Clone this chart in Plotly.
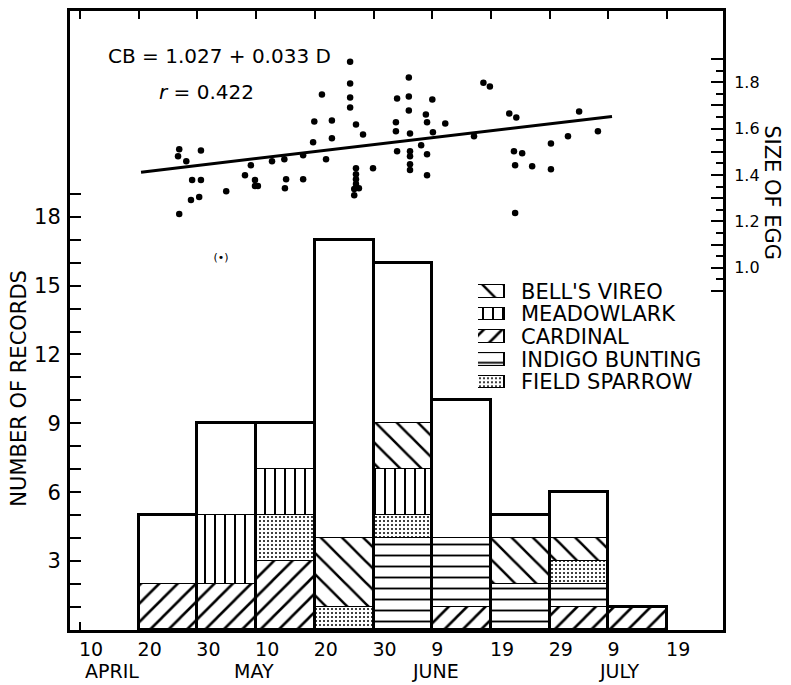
import plotly.graph_objects as go

# ---------------- data ----------------
# day numbering: April d -> d, May d -> 30+d, June d -> 61+d, July d -> 91+d
bin_start = [20, 30, 40, 50, 60, 70, 80, 90, 100]
bin_width = 10
cardinal = [2, 2, 3, 0, 0, 1, 0, 1, 1]
indigo_bunting = [0, 0, 0, 0, 4, 3, 2, 1, 0]
field_sparrow = [0, 0, 2, 1, 1, 0, 0, 1, 0]
meadowlark = [0, 3, 2, 0, 2, 0, 0, 0, 0]
bells_vireo = [0, 0, 0, 3, 2, 0, 2, 1, 0]
total_records = [5, 9, 9, 17, 16, 10, 5, 6, 1]

legend_names = ["BELL'S VIREO", "MEADOWLARK", "CARDINAL", "INDIGO BUNTING", "FIELD SPARROW"]

x_tick_days = [10, 20, 30, 40, 50, 60, 70, 80, 90, 100, 110]
x_tick_labels = ["10", "20", "30", "10", "20", "30", "9\u2007", "19", "29", "9\u2007", "19"]
month_names = ["APRIL", "MAY", "JUNE", "JULY"]
month_days = [15.5, 39.6, 70.5, 101.8]

y_tick_vals = list(range(1, 20))
y_tick_text = ["", "", "3", "", "", "6", "", "", "9", "", "", "12", "", "", "15", "", "", "18", ""]

egg_tick_vals = [0.9, 1.0, 1.1, 1.2, 1.3, 1.4, 1.5, 1.6, 1.7, 1.8, 1.9]
egg_tick_text = ["", "1.0", "", "1.2", "", "1.4", "", "1.6", "", "1.8", ""]
egg_minor_vals = [0.95, 1.05, 1.15, 1.25, 1.35, 1.45, 1.55, 1.65, 1.75, 1.85]

egg_day = [26.9, 26.7, 28.1, 30.6, 29.1, 30.6, 28.9, 30.3, 26.9, 34.9,
           38.1, 39.1, 39.8, 39.8, 40.3, 42.7, 44.8, 45.1, 44.9, 48.0,
           48.0, 49.7, 49.9, 51.2, 51.9, 52.9, 52.9, 56.0, 56.0, 56.0,
           56.0, 57.0, 58.2, 59.9, 57.0, 57.0, 57.0, 57.0, 56.7, 57.5,
           56.7, 66.0, 64.0, 66.0, 70.0, 66.0, 68.9, 63.8, 69.1, 72.2,
           63.8, 66.2, 70.1, 68.1, 64.0, 66.2, 66.2, 69.1, 66.2, 66.2,
           69.1, 78.7, 79.8, 83.1, 84.3, 95.0, 77.1, 90.2, 93.1, 98.2,
           83.9, 85.3, 84.1, 87.0, 90.2, 84.1]
egg_size = [1.511, 1.481, 1.459, 1.506, 1.378, 1.378, 1.292, 1.305, 1.232, 1.330,
            1.399, 1.442, 1.378, 1.352, 1.352, 1.459, 1.468, 1.382, 1.343, 1.485,
            1.382, 1.541, 1.631, 1.747, 1.468, 1.635, 1.558, 1.888, 1.794, 1.734,
            1.691, 1.618, 1.575, 1.429, 1.429, 1.403, 1.382, 1.361, 1.339, 1.343,
            1.313, 1.820, 1.730, 1.738, 1.725, 1.678, 1.661, 1.627, 1.627, 1.622,
            1.588, 1.579, 1.584, 1.528, 1.502, 1.502, 1.481, 1.489, 1.446, 1.421,
            1.399, 1.798, 1.781, 1.665, 1.648, 1.674, 1.567, 1.536, 1.567, 1.588,
            1.502, 1.494, 1.442, 1.438, 1.425, 1.236]
fit_day = [20.4, 100.6]
fit_size = [1.412, 1.652]
outlier_day = [34.0]
outlier_size = [1.039]

# ---------------- figure ----------------
FONT = "DejaVu Sans"
bin_center = [s + bin_width / 2 for s in bin_start]
other = [t - (a + b + c + d + e) for t, a, b, c, d, e in
         zip(total_records, cardinal, indigo_bunting, field_sparrow, meadowlark, bells_vireo)]

patterns = {
    "CARDINAL": dict(shape="/", size=13, solidity=0.2),
    "INDIGO BUNTING": dict(shape="-", size=11, solidity=0.17),
    "FIELD SPARROW": dict(shape=".", size=4, solidity=0.2),
    "MEADOWLARK": dict(shape="|", size=10, solidity=0.2),
    "BELL'S VIREO": dict(shape="\\", size=15, solidity=0.17),
}
for p in patterns.values():
    p.update(fgcolor="black", bgcolor="white", fillmode="overlay", fgopacity=1)

fig = go.Figure()

stack = [("CARDINAL", cardinal), ("INDIGO BUNTING", indigo_bunting),
         ("FIELD SPARROW", field_sparrow), ("MEADOWLARK", meadowlark),
         ("BELL'S VIREO", bells_vireo)]
for name, vals in stack:
    fig.add_trace(go.Bar(
        x=bin_center, y=vals, width=[bin_width] * len(vals), name=name, showlegend=False,
        marker=dict(color="white", pattern=patterns[name], line=dict(color="black", width=1.5)),
        hoverinfo="skip"))

fig.add_trace(go.Bar(
    x=bin_center, y=other, width=[bin_width] * len(other), showlegend=False,
    marker=dict(color="white", line=dict(color="black", width=1.5)), hoverinfo="skip"))

# bold outline of each bar (separate overlay axis so it does not stack)
fig.add_trace(go.Bar(
    x=bin_center, y=total_records, width=[bin_width] * len(total_records), showlegend=False,
    marker=dict(color="rgba(0,0,0,0)", line=dict(color="black", width=3.5)),
    yaxis="y3", hoverinfo="skip"))

# legend swatches (own small axes)
for i, name in enumerate(legend_names):
    fig.add_trace(go.Bar(
        x=[1], y=[i], orientation="h", width=0.55, xaxis="x4", yaxis="y4", showlegend=False,
        marker=dict(color="white", pattern=patterns[name], line=dict(color="black", width=1.5)),
        hoverinfo="skip"))

fig.add_trace(go.Scatter(
    x=egg_day, y=egg_size, mode="markers", yaxis="y2", showlegend=False,
    marker=dict(color="black", size=6.5)))
fig.add_trace(go.Scatter(
    x=fit_day, y=fit_size, mode="lines", yaxis="y2", showlegend=False,
    line=dict(color="black", width=3)))
fig.add_trace(go.Scatter(
    x=outlier_day, y=outlier_size, mode="text", text=["(\u2022)"], yaxis="y2",
    showlegend=False, textfont=dict(size=11, family=FONT, color="black")))

annotations = [
    dict(text="CB = 1.027 + 0.033 D", x=0.0551, y=0.9277, xanchor="left", yanchor="middle",
         font=dict(size=20)),
    dict(text="<i>r</i> = 0.422", x=0.1332, y=0.8698, xanchor="left", yanchor="middle",
         font=dict(size=20)),
    dict(text="NUMBER OF RECORDS", x=-0.0781, y=0.3899, textangle=-90,
         xanchor="center", yanchor="middle", font=dict(size=21)),
    dict(text="SIZE OF EGG", x=1.0750, y=0.7058, textangle=90,
         xanchor="center", yanchor="middle", font=dict(size=21)),
]
for a in annotations:
    a.update(xref="paper", yref="paper", showarrow=False)
for name, d in zip(month_names, month_days):
    annotations.append(dict(text=name, x=d, y=-0.0659, xref="x", yref="paper",
                            showarrow=False, xanchor="center", yanchor="middle",
                            font=dict(size=19)))
for i, name in enumerate(legend_names):
    annotations.append(dict(text=name, x=0.6876, y=i, xref="paper", yref="y4",
                            showarrow=False, xanchor="left", yanchor="middle",
                            font=dict(size=21)))

fig.update_layout(
    width=775, height=677,
    margin=dict(l=62, r=60, t=0, b=55),
    paper_bgcolor="white", plot_bgcolor="white",
    font=dict(family=FONT, color="black", size=18),
    barmode="stack", bargap=0,
    showlegend=False,
    xaxis=dict(range=[8.3, 119.5], tickmode="array", tickvals=x_tick_days,
               ticktext=x_tick_labels, ticks="inside", ticklen=8, tickwidth=2,
               tickcolor="black", showline=True, linewidth=3, linecolor="black",
               mirror="ticks", showgrid=False, zeroline=False,
               tickfont=dict(size=19), ticklabelshift=11, ticklabelstandoff=0),
    yaxis=dict(range=[0, 26.96], tickmode="array", tickvals=y_tick_vals, ticktext=y_tick_text,
               ticks="inside", ticklen=11, tickwidth=2, tickcolor="black",
               showline=True, linewidth=3, linecolor="black", showgrid=False,
               zeroline=False, tickfont=dict(size=21), ticklabelstandoff=2),
    yaxis2=dict(overlaying="y", side="right", range=[-0.562, 2.107], tickmode="array",
                tickvals=egg_tick_vals, ticktext=egg_tick_text, ticks="inside",
                ticklen=12, tickwidth=2, tickcolor="black",
                minor=dict(tickmode="array", tickvals=egg_minor_vals, ticks="inside",
                           ticklen=7, tickwidth=2, tickcolor="black", showgrid=False),
                showline=True, linewidth=3, linecolor="black", showgrid=False,
                zeroline=False, tickfont=dict(size=16), ticklabelstandoff=5),
    yaxis3=dict(overlaying="y", range=[0, 26.96], visible=False),
    xaxis4=dict(domain=[0.6248, 0.6662], range=[0, 1], visible=False, anchor="y4",
                fixedrange=True),
    yaxis4=dict(domain=[0.3820, 0.5650], range=[4.5, -0.5], visible=False, anchor="x4",
                fixedrange=True),
    annotations=annotations,
)

fig.write_html("out.html")
